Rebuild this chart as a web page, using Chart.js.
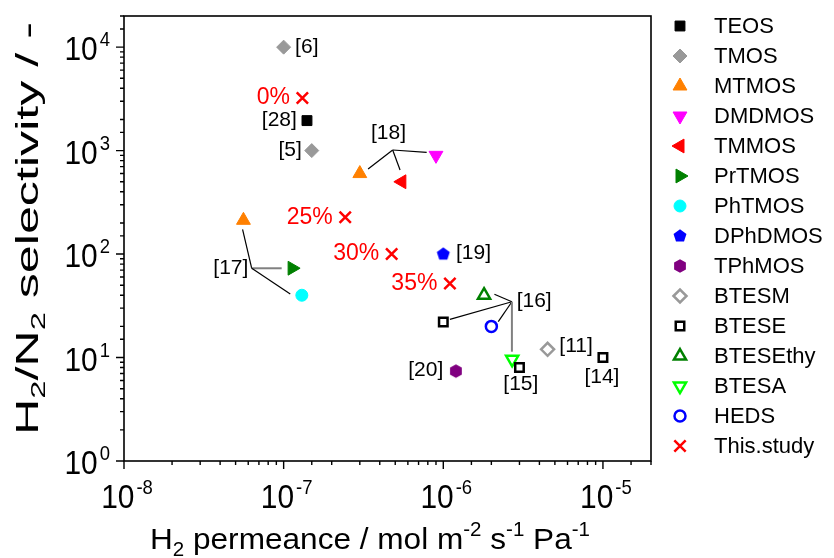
<!DOCTYPE html>
<html>
<head>
<meta charset="utf-8">
<script src="https://cdn.jsdelivr.net/npm/chart.js@4.4.0/dist/chart.umd.min.js"></script>
<style>
html, body { margin: 0; padding: 0; background: #fff; }
#wrap { width: 834px; height: 558px; }
</style>
</head>
<body>
<div id="wrap"><canvas id="chart" width="834" height="558"></canvas></div>
<script>
// [H2 permeance (mol m-2 s-1 Pa-1), H2/N2 selectivity]
var teos      = [[1.40e-7, 1950]];
var tmos      = [[1.00e-7, 10000], [1.50e-7, 1000]];
var mtmos     = [[3.00e-7, 600], [5.60e-8, 212]];
var dmdmos    = [[9.00e-7, 900]];
var tmmos     = [[5.50e-7, 500]];
var prtmos    = [[1.13e-7, 73]];
var phtmos    = [[1.30e-7, 40]];
var dphdmos   = [[1.00e-6, 100]];
var tphmos    = [[1.20e-6, 7.4]];
var btesm     = [[4.50e-6, 12]];
var btese     = [[1.00e-6, 22], [3.00e-6, 8], [1.00e-5, 10]];
var btesethy  = [[1.80e-6, 40]];
var btesa     = [[2.70e-6, 9.6]];
var heds      = [[2.00e-6, 20]];
var thisStudy = [[1.31e-7, 3230], [2.43e-7, 227], [4.75e-7, 100], [1.10e-6, 52]];
var thisStudyLabels = ['0%', '25%', '30%', '35%'];

var xTickExp = ['-8', '-7', '-6', '-5'];
var yTickExp = ['0', '1', '2', '3', '4'];

// reference numbers: text, x, y, align
var refLabels = [
  ['[6]', 1.18e-7, 10000, 'left'],
  ['[28]', 1.21e-7, 1946, 'right'],
  ['[5]', 1.30e-7, 1014, 'right'],
  ['[18]', 4.54e-7, 1470, 'center'],
  ['[19]', 1.20e-6, 101.7, 'left'],
  ['[17]', 6.01e-8, 72.9, 'right'],
  ['[16]', 2.88e-6, 35.4, 'left'],
  ['[20]', 1.00e-6, 7.58, 'right'],
  ['[15]', 3.06e-6, 5.55, 'center'],
  ['[11]', 5.33e-6, 12.93, 'left'],
  ['[14]', 9.85e-6, 6.44, 'center']
];
// leader lines: from, to, colour
var leaders = [
  [[4.82e-7, 1014], [3.38e-7, 664], '#000'],
  [[4.82e-7, 1014], [5.36e-7, 649], '#000'],
  [[4.82e-7, 1014], [7.87e-7, 963], '#000'],
  [[6.31e-8, 72.9], [5.53e-8, 173.6], '#000'],
  [[6.31e-8, 72.9], [9.72e-8, 72.9], '#808080'],
  [[6.31e-8, 72.9], [1.10e-7, 41.1], '#000'],
  [[2.69e-6, 34.6], [2.09e-6, 40.9], '#000'],
  [[2.69e-6, 34.6], [1.10e-6, 23.4], '#000'],
  [[2.69e-6, 34.6], [2.21e-6, 22.2], '#000'],
  [[2.69e-6, 34.6], [2.69e-6, 11.39], '#808080']
];

var FONT = "'Liberation Sans', Arial, sans-serif";

function polyCanvas(n, r, color) {
  var c = document.createElement('canvas');
  var s = Math.ceil(r * 2 + 2);
  c.width = s; c.height = s;
  var g = c.getContext('2d');
  g.fillStyle = color;
  g.beginPath();
  for (var i = 0; i < n; i++) {
    var a = i * 2 * Math.PI / n;
    var px = s / 2 + r * Math.sin(a), py = s / 2 - r * Math.cos(a);
    if (i) g.lineTo(px, py); else g.moveTo(px, py);
  }
  g.closePath();
  g.fill();
  return c;
}

function ds(label, pts, st) {
  return {
    label: label,
    data: pts.map(function(p) { return {x: p[0], y: p[1]}; }),
    pointStyle: st.s,
    pointRadius: st.r,
    pointRotation: st.rot || 0,
    backgroundColor: st.fill,
    borderColor: st.line,
    borderWidth: st.w
  };
}

var datasets = [
  ds('TEOS', teos, {s: 'rect', r: 7, fill: '#000', line: '#000', w: 1}),
  ds('TMOS', tmos, {s: 'rectRot', r: 7, fill: '#999', line: '#999', w: 1}),
  ds('MTMOS', mtmos, {s: 'triangle', r: 8, fill: '#ff8000', line: '#ff8000', w: 1}),
  ds('DMDMOS', dmdmos, {s: 'triangle', r: 8, rot: 180, fill: '#ff00ff', line: '#ff00ff', w: 1}),
  ds('TMMOS', tmmos, {s: 'triangle', r: 8, rot: 270, fill: '#ff0000', line: '#ff0000', w: 1}),
  ds('PrTMOS', prtmos, {s: 'triangle', r: 8, rot: 90, fill: '#008000', line: '#008000', w: 1}),
  ds('PhTMOS', phtmos, {s: 'circle', r: 6, fill: '#00ffff', line: '#00ffff', w: 1}),
  ds('DPhDMOS', dphdmos, {s: polyCanvas(5, 6.8, '#0000ff'), r: 7, fill: '#0000ff', line: '#0000ff', w: 1}),
  ds('TPhMOS', tphmos, {s: polyCanvas(6, 6.8, '#800080'), r: 7, fill: '#800080', line: '#800080', w: 1}),
  ds('BTESM', btesm, {s: 'rectRot', r: 6.5, fill: '#fff', line: '#999', w: 2.5}),
  ds('BTESE', btese, {s: 'rect', r: 6, fill: '#fff', line: '#000', w: 2.5}),
  ds('BTESEthy', btesethy, {s: 'triangle', r: 7, fill: '#fff', line: '#008000', w: 2.5}),
  ds('BTESA', btesa, {s: 'triangle', r: 7, rot: 180, fill: '#fff', line: '#00ff00', w: 2.5}),
  ds('HEDS', heds, {s: 'circle', r: 5.5, fill: '#fff', line: '#0000ff', w: 2.5}),
  ds('This.study', thisStudy, {s: 'crossRot', r: 8, fill: '#ff0000', line: '#ff0000', w: 2.5})
];

// text with sub/superscripts, centred at x, stretched to target width if given
function drawRich(ctx, parts, x, y, size, target) {
  var w = 0;
  parts.forEach(function(p) {
    ctx.font = (p[1] ? size * 0.65 : size) + 'px ' + FONT;
    w += ctx.measureText(p[0]).width;
  });
  var s = target ? target / w : 1;
  ctx.save();
  ctx.translate(x, y);
  ctx.scale(s, 1);
  ctx.textAlign = 'left';
  ctx.textBaseline = 'alphabetic';
  var cx = -w / 2;
  parts.forEach(function(p) {
    ctx.font = (p[1] ? size * 0.65 : size) + 'px ' + FONT;
    var dy = p[1] === 1 ? -size * 0.42 : (p[1] === -1 ? size * 0.22 : 0);
    ctx.fillText(p[0], cx, dy);
    cx += ctx.measureText(p[0]).width;
  });
  ctx.restore();
}

// "10" with exponent, narrowed a little like the original export
var TK = 0.88;
function powerLabel(ctx, e, x, y, anchor) {
  ctx.font = '34px ' + FONT;
  var w1 = ctx.measureText('10').width * TK;
  ctx.font = '21px ' + FONT;
  var w2 = ctx.measureText(e).width * TK;
  var x0 = anchor === 'right' ? x - (w1 + 2 + w2) : x - (w1 + 2 + w2) / 2;
  ctx.save();
  ctx.translate(x0, y);
  ctx.scale(TK, 1);
  ctx.font = '34px ' + FONT;
  ctx.fillText('10', 0, 0);
  ctx.font = '21px ' + FONT;
  ctx.fillText(e, (w1 + 2) / TK, -14);
  ctx.restore();
}

function px(chart, p) {
  return [chart.scales.x.getPixelForValue(p[0]), chart.scales.y.getPixelForValue(p[1])];
}

var decoPlugin = {
  id: 'deco',
  beforeDatasetsDraw: function(chart) {
    var ctx = chart.ctx;
    ctx.save();
    leaders.forEach(function(l) {
      var a = px(chart, l[0]), b = px(chart, l[1]);
      ctx.strokeStyle = l[2];
      ctx.lineWidth = l[2] === '#000' ? 1.2 : 2;
      ctx.beginPath();
      ctx.moveTo(a[0], a[1]);
      ctx.lineTo(b[0], b[1]);
      ctx.stroke();
    });
    ctx.restore();
  },
  afterDraw: function(chart) {
    var ctx = chart.ctx, area = chart.chartArea;
    var xs = chart.scales.x, ys = chart.scales.y;
    ctx.save();
    // frame
    ctx.strokeStyle = '#000';
    ctx.lineWidth = 1.6;
    ctx.strokeRect(area.left, area.top, area.right - area.left, area.bottom - area.top);
    // ticks
    ctx.lineWidth = 1.4;
    ctx.beginPath();
    xs.ticks.forEach(function(t) {
      var x = xs.getPixelForValue(t.value);
      var len = t.major ? 8 : 4;
      ctx.moveTo(x, area.bottom);
      ctx.lineTo(x, area.bottom + len);
    });
    ys.ticks.forEach(function(t) {
      var y = ys.getPixelForValue(t.value);
      var len = t.major ? 8 : 4;
      ctx.moveTo(area.left, y);
      ctx.lineTo(area.left - len, y);
    });
    ctx.stroke();

    // tick labels
    ctx.fillStyle = '#000';
    ctx.textBaseline = 'alphabetic';
    ctx.textAlign = 'left';
    yTickExp.forEach(function(e) {
      powerLabel(ctx, e, 110, ys.getPixelForValue(Math.pow(10, +e)) + 13, 'right');
    });
    xTickExp.forEach(function(e) {
      powerLabel(ctx, e, xs.getPixelForValue(Math.pow(10, +e)) + 3, 508, 'center');
    });

    // axis titles
    drawRich(ctx, [['H', 0], ['2', -1], [' permeance / mol m', 0], ['-2', 1], [' s', 0], ['-1', 1], [' Pa', 0], ['-1', 1]],
      370, 549, 30, 440);
    ctx.save();
    ctx.translate(38, 228.5);
    ctx.rotate(-Math.PI / 2);
    drawRich(ctx, [['H', 0], ['2', -1], ['/N', 0], ['2', -1], [' selectivity / -', 0]], 0, 0, 31, 413);
    ctx.restore();

    // reference labels
    ctx.font = '21px ' + FONT;
    ctx.textBaseline = 'middle';
    ctx.fillStyle = '#000';
    refLabels.forEach(function(l) {
      var p = px(chart, [l[1], l[2]]);
      ctx.textAlign = l[3];
      ctx.fillText(l[0], p[0], p[1]);
    });
    // this study labels
    ctx.font = '23px ' + FONT;
    ctx.fillStyle = '#ff0000';
    ctx.textAlign = 'right';
    thisStudy.forEach(function(pt, i) {
      var p = px(chart, pt);
      ctx.fillText(thisStudyLabels[i], p[0] - 12.5, p[1]);
    });

    // legend
    ctx.font = '22px ' + FONT;
    ctx.textAlign = 'left';
    ctx.fillStyle = '#000';
    chart.data.datasets.forEach(function(d, i) {
      var y = 26 + 30 * i;
      ctx.save();
      ctx.fillStyle = d.backgroundColor;
      ctx.strokeStyle = d.borderColor;
      ctx.lineWidth = d.borderWidth;
      Chart.helpers.drawPoint(ctx, {pointStyle: d.pointStyle, radius: d.pointRadius, rotation: d.pointRotation, borderWidth: d.borderWidth}, 680, y);
      ctx.restore();
      ctx.fillText(d.label, 714, y + 1);
    });
    ctx.restore();
  }
};

var ctx = document.getElementById('chart').getContext('2d');
var chart = new Chart(ctx, {
  type: 'scatter',
  data: {datasets: datasets},
  options: {
    responsive: false,
    animation: false,
    events: [],
    layout: {padding: {left: 124, right: 183, top: 16, bottom: 97}},
    plugins: {legend: {display: false}, tooltip: {enabled: false}},
    scales: {
      x: {
        type: 'logarithmic', min: 1e-8, max: 2e-5,
        ticks: {display: false},
        grid: {display: false, drawTicks: false},
        border: {display: false}
      },
      y: {
        type: 'logarithmic', min: 1, max: 2e4,
        ticks: {display: false},
        grid: {display: false, drawTicks: false},
        border: {display: false}
      }
    }
  },
  plugins: [decoPlugin]
});
</script>
</body>
</html>
